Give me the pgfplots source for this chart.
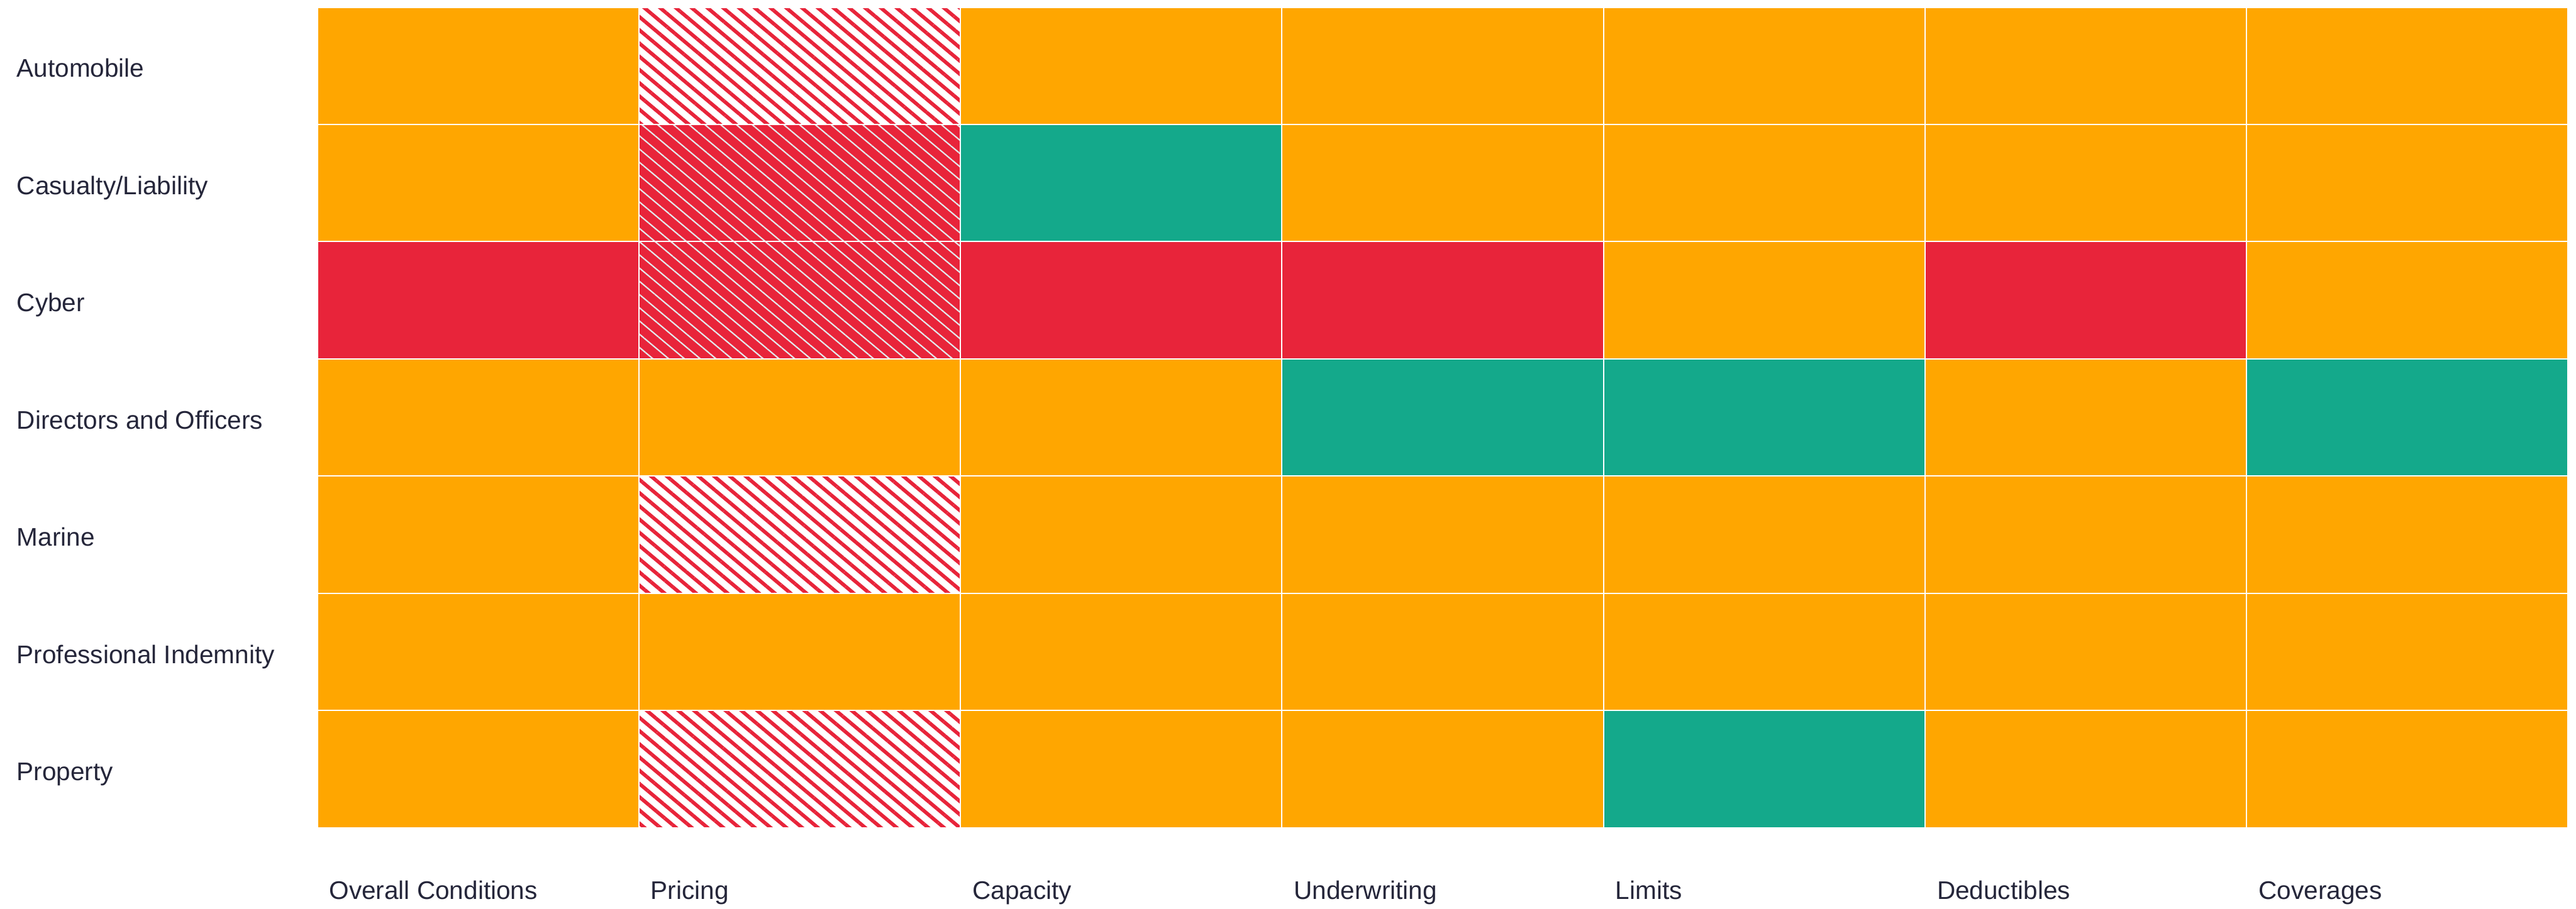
\documentclass[border=0pt]{standalone}
\usepackage{fontspec}
\setmainfont{Liberation Sans}
\usepackage{pgfplots}
\pgfplotsset{compat=1.18}
\usetikzlibrary{patterns.meta}

\definecolor{stable}{RGB}{255,166,0}
\definecolor{harden}{RGB}{232,36,58}
\definecolor{soften}{RGB}{20,169,139}
\definecolor{labeltext}{RGB}{37,38,58}
\definecolor{hatchline}{RGB}{226,234,236}

% status codes: 0 stable, 1 hardening, 2 softening,
% 3 moderate hardening (red lines on white), 4 strong hardening (white lines on red)
\pgfplotstableread{
x y c
0 0 0
1 0 3
2 0 0
3 0 0
4 0 2
5 0 0
6 0 0
0 1 0
1 1 0
2 1 0
3 1 0
4 1 0
5 1 0
6 1 0
0 2 0
1 2 3
2 2 0
3 2 0
4 2 0
5 2 0
6 2 0
0 3 0
1 3 0
2 3 0
3 3 2
4 3 2
5 3 0
6 3 2
0 4 1
1 4 4
2 4 1
3 4 1
4 4 0
5 4 1
6 4 0
0 5 0
1 5 4
2 5 2
3 5 0
4 5 0
5 5 0
6 5 0
0 6 0
1 6 3
2 6 0
3 6 0
4 6 0
5 6 0
6 6 0
}\statusgrid

\pgfplotsset{
  lighthatch/.style={draw=none, mark=none, forget plot,
    pattern={Lines[angle=-40, distance=3.36pt, line width=1.2pt]}, pattern color=harden},
  stronghatch/.style={draw=none, mark=none, forget plot,
    pattern={Lines[angle=-40, distance=3.36pt, line width=0.45pt]}, pattern color=hatchline},
}

\begin{document}
\begin{tikzpicture}
\begin{axis}[
  name=grid,
  scale only axis, width=746.4pt, height=272.2pt,
  xmin=-0.5, xmax=6.5, ymin=-0.5, ymax=6.5,
  axis on top,
  axis line style={draw=none},
  major tick length=0pt, minor tick length=0pt,
  xtick={-0.5,0.5,...,5.5},
  xticklabels={Overall Conditions, Pricing, Capacity, Underwriting, Limits, Deductibles, Coverages},
  ytick={0,...,6},
  yticklabels={Property, Professional Indemnity, Marine, Directors and Officers, Cyber, Casualty/Liability, Automobile},
  minor xtick={-0.5,0.5,...,6.5},
  minor ytick={-0.5,0.5,...,6.5},
  xminorgrids, yminorgrids,
  minor grid style={draw=white, line width=0.45pt},
  tick label style={text=labeltext, font=\fontsize{8.45}{10}\selectfont, inner sep=0pt},
  xticklabel style={anchor=base west, xshift=3.8pt, yshift=-23.8pt},
  yticklabel style={anchor=base west, xshift=-99.8pt, yshift=-3.8pt},
  colormap={status}{rgb255=(255,166,0) rgb255=(232,36,58) rgb255=(20,169,139) rgb255=(255,255,255) rgb255=(232,36,58)},
  colormap access=direct,
]
\addplot[matrix plot*, mesh/cols=7, point meta=explicit, draw=none]
  table[x=x, y=y, meta=c] {\statusgrid};

% hatched pricing cells
\addplot[lighthatch] coordinates {(0.5,5.5) (1.5,5.5) (1.5,6.5) (0.5,6.5) (0.5,5.5)};
\addplot[stronghatch] coordinates {(0.5,4.5) (1.5,4.5) (1.5,5.5) (0.5,5.5) (0.5,4.5)};
\addplot[stronghatch] coordinates {(0.5,3.5) (1.5,3.5) (1.5,4.5) (0.5,4.5) (0.5,3.5)};
\addplot[lighthatch] coordinates {(0.5,1.5) (1.5,1.5) (1.5,2.5) (0.5,2.5) (0.5,1.5)};
\addplot[lighthatch] coordinates {(0.5,-0.5) (1.5,-0.5) (1.5,0.5) (0.5,0.5) (0.5,-0.5)};
\end{axis}
\pgfresetboundingbox
\path[use as bounding box] ([xshift=-105.2pt,yshift=-26.8pt]grid.south west)
  rectangle ([xshift=2.6pt,yshift=2.4pt]grid.north east);
\end{tikzpicture}
\end{document}
